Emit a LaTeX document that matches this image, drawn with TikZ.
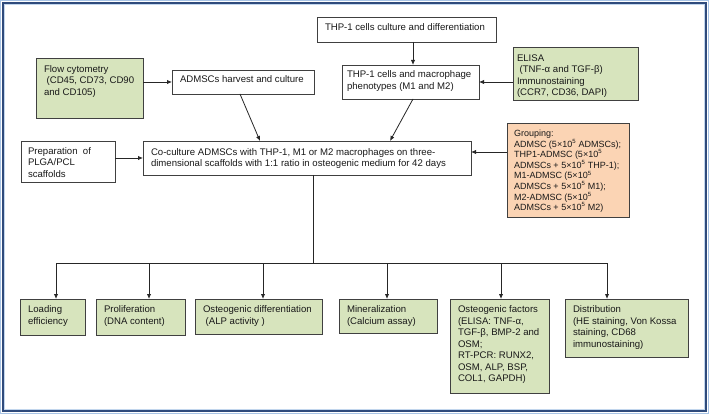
\documentclass[tikz,border=0pt]{standalone}
\usepackage{fontspec}
\setmainfont{Liberation Sans}
\usetikzlibrary{arrows.meta,shadows}
\definecolor{boxgreen}{HTML}{D7E4BD}
\definecolor{boxorange}{HTML}{FBD4B4}
\definecolor{framedark}{HTML}{2F4B7C}
\definecolor{framelight}{HTML}{A8C4E6}
\definecolor{linegray}{HTML}{262626}
\tikzset{
  boxbase/.style={draw=black!75, line width=0.8pt, inner sep=0pt, outer sep=0pt,
    drop shadow={shadow xshift=0.9pt, shadow yshift=-0.9pt, fill=black!35, opacity=0.6}},
  whitebox/.style={boxbase, fill=white},
  greenbox/.style={boxbase, fill=boxgreen},
  orangebox/.style={boxbase, fill=boxorange},
  txt/.style={inner sep=0pt, outer sep=0pt, font=\fontsize{9.6}{11.5}\selectfont, text=black!90},
  smalltxt/.style={inner sep=0pt, outer sep=0pt, font=\fontsize{9}{10.6}\selectfont, text=black!90},
  arr/.style={draw=linegray, line width=0.8pt, -{Latex[length=5pt,width=4.2pt]}},
  ln/.style={draw=linegray, line width=0.8pt}
}
\newcommand\supfive{\smash{\textsuperscript{5}}}
% name, style, x1, y1, x2, y2, dx, dy, text
\newcommand\mybox[9]{%
  \node[#2, minimum width={#5-#3}, minimum height={#6-#4}] (#1) at ({(#3+#5)/2},{(#4+#6)/2}) {};
  \node[txt, anchor=base west] (#1-t) at ({#3+#7},{#4+#8}) {\begin{tabular}[t]{@{}l@{}}#9\end{tabular}};
}
\begin{document}
\begin{tikzpicture}[x=1pt,y=-1pt]
\useasboundingbox (0,0) rectangle (709,414);
\fill[white] (0,0) rectangle (709,414);
% frame
\draw[framelight, line width=1pt] (0.8,0.8) rectangle (708.2,413.2);
\draw[framedark, line width=2pt] (2.6,2.6) rectangle (705.6,410.8);
\draw[framelight!70, line width=0.8pt] (4.2,4.2) rectangle (704,409.2);

\mybox{thp}{whitebox}{317}{17}{496}{42}{8}{14}{THP-1 cells culture and differentiation}
\mybox{flow}{greenbox}{36}{58}{143}{118}{8}{14.5}{Flow cytometry\\\ (CD45, CD73, CD90\\and CD105)}
\mybox{adm}{whitebox}{172}{70}{314}{94}{8}{12.5}{ADMSCs harvest and culture}
\mybox{phen}{whitebox}{342}{65}{479}{99}{5}{13}{THP-1 cells and macrophage\\phenotypes (M1 and M2)}
\mybox{elisa}{greenbox}{513}{47}{638}{100}{4}{14.5}{ELISA\\\ (TNF-α and TGF-β)\\Immunostaining\\(CCR7, CD36, DAPI)}
\mybox{plga}{whitebox}{21}{141}{115}{182}{7}{13.5}{Preparation~ of\\PLGA/PCL\\scaffolds}
\mybox{cocult}{whitebox}{143}{141}{471}{175}{8}{14.5}{Co-culture ADMSCs with THP-1, M1 or M2 macrophages on three-\\dimensional scaffolds with 1:1 ratio in osteogenic medium for 42 days}
% grouping box (smaller type)
\node[orangebox, minimum width=122, minimum height=94] (group) at (568,170) {};
\node[smalltxt, anchor=base west] (group-t) at (514,136.5) {\begin{tabular}[t]{@{}l@{}}Grouping:\\
ADMSC (5×10\supfive{} ADMSCs);\\
THP1-ADMSC (5×10\supfive\\
ADMSCs + 5×10\supfive{} THP-1);\\
M1-ADMSC (5×10\supfive\\
ADMSCs + 5×10\supfive{} M1);\\
M2-ADMSC (5×10\supfive\\
ADMSCs + 5×10\supfive{} M2)\end{tabular}};

\mybox{load}{greenbox}{20}{299}{85}{335}{8}{13.5}{Loading\\efficiency}
\mybox{prol}{greenbox}{96}{299}{185}{335}{8}{13.5}{Proliferation\\(DNA content)}
\mybox{odiff}{greenbox}{195}{299}{322}{334}{8}{13.5}{Osteogenic differentiation\\\ (ALP activity )}
\mybox{mine}{greenbox}{339}{299}{437}{333}{8}{13.5}{Mineralization\\(Calcium assay)}
\mybox{ofac}{greenbox}{450}{299}{549}{393}{8}{13.5}{Osteogenic factors\\(ELISA: TNF-α,\\TGF-β, BMP-2 and\\OSM;\\RT-PCR: RUNX2,\\OSM, ALP, BSP,\\COL1, GAPDH)}
\mybox{dist}{greenbox}{565}{299}{688}{357}{8}{13.5}{Distribution\\(HE staining, Von Kossa\\staining, CD68\\immunostaining)}

% connectors
\draw[arr] (thp.south -| 413,0) -- (phen.north -| 413,0);
\draw[arr] (elisa.west |- 0,82) -- (phen.east |- 0,82);
\draw[arr] (flow.east |- 0,82) -- (adm.west |- 0,82);
\draw[arr] (adm.south -| 240,0) -- (cocult.north -| 260,0);
\draw[arr] (phen.south -| 413,0) -- (cocult.north -| 390,0);
\draw[arr] (plga.east |- 0,158) -- (cocult.west |- 0,158);
\draw[arr] (group.west |- 0,152) -- (cocult.east |- 0,152);
\coordinate (bus) at (313,263);
\coordinate (busL) at (56,263);
\coordinate (busR) at (607,263);
\draw[ln] (cocult.south -| bus) -- (bus);
\draw[ln] (busL) -- (busR);
\draw[arr] (busL) -- (load.north -| busL);
\draw[arr] (149,263) -- (prol.north -| 149,0);
\draw[arr] (263,263) -- (odiff.north -| 263,0);
\draw[arr] (387,263) -- (mine.north -| 387,0);
\draw[arr] (501,263) -- (ofac.north -| 501,0);
\draw[arr] (busR) -- (dist.north -| busR);
\end{tikzpicture}
\end{document}
